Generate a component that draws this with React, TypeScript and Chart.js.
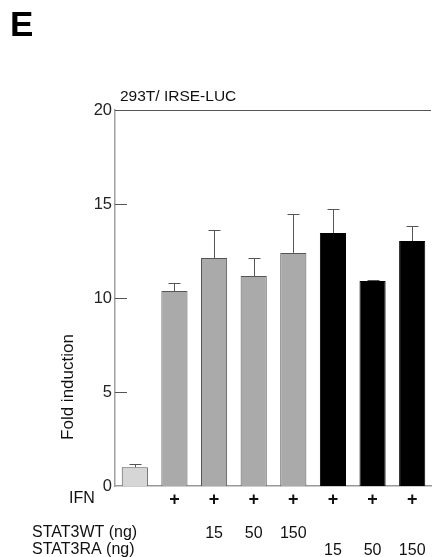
import React, { useEffect, useRef } from "react";
import { Chart, registerables } from "chart.js";

Chart.register(...registerables);

const ifnRow = ["", "+", "+", "+", "+", "+", "+", "+"];
const wtRow = ["", "", "15", "50", "150", "", "", ""];
const raRow = ["", "", "", "", "", "15", "50", "150"];
const foldValues = [1.0, 10.37, 12.13, 11.17, 12.4, 13.46, 10.9, 13.03];
const errorTops = [1.17, 10.8, 13.6, 12.13, 14.47, 14.73, 10.96, 13.83];
const barColors = ["#d6d6d6", "#aaaaaa", "#aaaaaa", "#aaaaaa", "#aaaaaa", "#000000", "#000000", "#000000"];
const yTicks = [0, 5, 10, 15, 20];
const rowTitles = ["IFN", "STAT3WT (ng)", "STAT3RA (ng)"];
const panelLetter = "E";
const chartTitle = "293T/ IRSE-LUC";
const yTitle = "Fold induction";

const FONT = "'Liberation Sans', Arial, sans-serif";

export default function App() {
  const ref = useRef<HTMLCanvasElement | null>(null);

  useEffect(() => {
    document.body.style.margin = "0";
    const canvas = ref.current;
    if (!canvas) return;

    const labels = ifnRow.map((v, i) => ["", "", wtRow[i], raRow[i]]);

    const decor = {
      id: "decor",
      afterDatasetsDraw(chart: any) {
        const ctx = chart.ctx;
        const area = chart.chartArea;
        const ys = chart.scales.y;
        const xs = chart.scales.x;
        const meta = chart.getDatasetMeta(0);
        ctx.save();
        // error bars
        ctx.strokeStyle = "#555";
        ctx.lineWidth = 1;
        meta.data.forEach((el: any, i: number) => {
          const x = Math.round(el.x) + 0.5;
          const yTop = el.y;
          const yErr = ys.getPixelForValue(errorTops[i]);
          ctx.beginPath();
          ctx.moveTo(x, yTop);
          ctx.lineTo(x, yErr);
          ctx.moveTo(x - 6, Math.round(yErr) + 0.5);
          ctx.lineTo(x + 6, Math.round(yErr) + 0.5);
          ctx.stroke();
        });
        // inward ticks
        yTicks.forEach((t) => {
          if (t === 20 || t === 0) return;
          const y = Math.round(ys.getPixelForValue(t)) + 0.5;
          ctx.beginPath();
          ctx.moveTo(area.left, y);
          ctx.lineTo(area.left + 12, y);
          ctx.stroke();
        });
        // top line
        const yt = Math.round(ys.getPixelForValue(20)) + 0.5;
        ctx.beginPath();
        ctx.moveTo(area.left, yt);
        ctx.lineTo(area.right - 1, yt);
        ctx.stroke();

        // texts
        ctx.fillStyle = "#000";
        ctx.textBaseline = "middle";
        ctx.textAlign = "left";
        ctx.font = `bold 35px ${FONT}`;
        ctx.fillText(panelLetter, 10, 26);
        ctx.font = `15.5px ${FONT}`;
        ctx.fillStyle = "#111";
        ctx.fillText(chartTitle, area.left + 5, area.top - 13);

        ctx.font = `16px ${FONT}`;
        const rowY0 = area.bottom + 13;
        ctx.textAlign = "center";
        ctx.fillText(rowTitles[0], 82, rowY0);
        ctx.textAlign = "left";
        ctx.fillText(rowTitles[1], 32, rowY0 + 34);
        ctx.fillText(rowTitles[2], 32, rowY0 + 51);

        // IFN "+" row (bold)
        ctx.font = `bold 18px ${FONT}`;
        ctx.textAlign = "center";
        ifnRow.forEach((s, i) => {
          if (!s) return;
          ctx.fillText(s, xs.getPixelForValue(i), rowY0 + 1);
        });

        ctx.font = `17px ${FONT}`;
        ctx.fillStyle = "#111";
        ctx.translate(68, 387);
        ctx.rotate(-Math.PI / 2);
        ctx.textAlign = "center";
        ctx.fillText(yTitle, 0, 0);
        ctx.restore();
      },
    };

    const chart = new Chart(canvas, {
      type: "bar",
      data: {
        labels,
        datasets: [
          {
            data: foldValues,
            backgroundColor: barColors,
            borderColor: barColors.map((c) => (c === "#000000" ? "#000000" : "#555555")),
            borderWidth: 1,
            barPercentage: 0.66,
            categoryPercentage: 1,
          },
        ],
      },
      options: {
        responsive: false,
        animation: false,
        layout: { padding: { top: 110, left: 0, right: 0, bottom: 0 } },
        plugins: {
          legend: { display: false },
          tooltip: { enabled: false },
          title: { display: false },
        },
        scales: {
          x: {
            offset: true,
            grid: { display: false },
            border: { display: true, color: "#999", width: 1.5 },
            ticks: {
              autoSkip: false,
              maxRotation: 0,
              minRotation: 0,
              padding: -2.5,
              color: "#111",
              font: { family: FONT, size: 16, lineHeight: 17 / 16 },
            },
            afterFit(scale: any) {
              scale.height = 71;
            },
          },
          y: {
            min: 0,
            max: 20,
            grid: { display: false, drawTicks: false },
            border: { display: true, color: "#a0a0a0", width: 1.5 },
            ticks: {
              stepSize: 5,
              padding: 3,
              color: "#222",
              font: { family: FONT, size: 16.5 },
            },
            afterFit(scale: any) {
              scale.width = 115;
            },
          },
        },
      },
      plugins: [decor],
    });

    return () => chart.destroy();
  }, []);

  return (
    <div style={{ position: "absolute", left: 0, top: 0, width: 432, height: 557 }}>
      <canvas ref={ref} width={432} height={557} style={{ display: "block" }} />
    </div>
  );
}
